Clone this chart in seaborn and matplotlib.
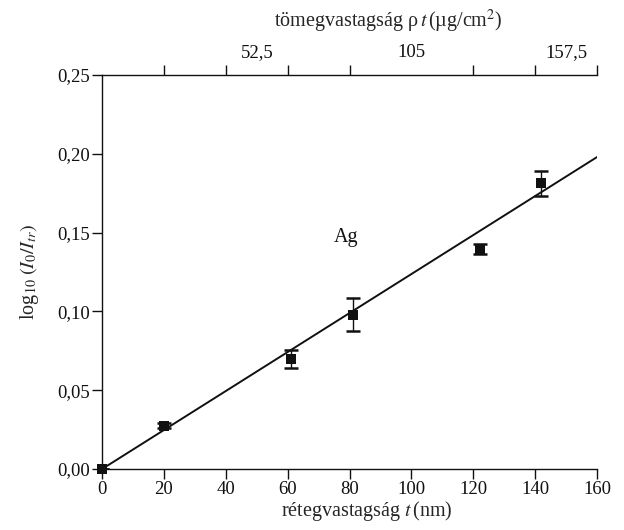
import numpy as np
import pandas as pd
import seaborn as sns
import matplotlib.pyplot as plt
from matplotlib.ticker import FuncFormatter, FixedLocator

# measured points (thickness in nm, log10(I0/Itr), error)
thickness = [0, 20, 61, 81, 122, 142]
log_ratio = [0.0, 0.0275, 0.0698, 0.098, 0.1396, 0.1812]
log_err = [0.0, 0.0015, 0.0056, 0.0104, 0.003, 0.0081]

# straight line through the data
line_t = [0, 160]
line_y = [0.0, 0.198]

x_ticks = [0, 20, 40, 60, 80, 100, 120, 140, 160]
y_ticks = [0.0, 0.05, 0.10, 0.15, 0.20, 0.25]
top_labels = [52.5, 105, 157.5]
rho = 1.05  # µg/cm2 per nm for Ag

sns.set_theme(style='ticks')
plt.rcParams['font.family'] = ['Liberation Serif', 'DejaVu Serif']
plt.rcParams['mathtext.fontset'] = 'stix'
plt.rcParams['font.size'] = 13.5

ink = '#111111'
df = pd.DataFrame({'t': thickness, 'y': log_ratio, 'err': log_err})
line_df = pd.DataFrame({'t': line_t, 'y': line_y})

fig = plt.figure(figsize=(6.24, 5.30), dpi=100)
ax = fig.add_axes([0.1635, 0.115, 0.7935, 0.7435])

sns.lineplot(data=line_df, x='t', y='y', color=ink, linewidth=1.4, ax=ax)
ax.errorbar(df['t'], df['y'], yerr=df['err'], fmt='none', ecolor=ink,
            elinewidth=1.0, capsize=5, capthick=1.8)
sns.scatterplot(data=df, x='t', y='y', marker='s', s=60, color=ink,
                edgecolor=ink, linewidth=0, zorder=5, ax=ax)
for c in ax.collections:
    c.set_clip_on(False)

ax.set_xlim(0, 160)
ax.set_ylim(0, 0.25)
ax.set_xticks(x_ticks)
ax.set_yticks(y_ticks)
ax.yaxis.set_major_formatter(FuncFormatter(lambda v, p: f'{v:.2f}'.replace('.', ',')))
ax.tick_params(axis='both', direction='out', length=7, width=1.0, colors=ink,
               labelsize=13.5, pad=1.5)
for s in ['left', 'bottom']:
    ax.spines[s].set_linewidth(1.0)
    ax.spines[s].set_color(ink)
ax.spines['right'].set_visible(False)
ax.spines['top'].set_visible(False)

ax.set_xlabel(r'rétegvastagság $t\,$(nm)', fontsize=14.5, labelpad=1)
ax.xaxis.label.set_x(0.535)
ax.set_ylabel(r'log$_{10}\;(I_0/I_{tr})$', fontsize=14.5, labelpad=12)

# top axis in mass thickness
top = ax.secondary_xaxis('top', functions=(lambda t: t * rho, lambda m: m / rho))
top.set_xticks(top_labels)
top.xaxis.set_major_formatter(FuncFormatter(lambda v, p: f'{v:g}'.replace('.', ',')))
top.xaxis.set_minor_locator(FixedLocator([t * rho for t in x_ticks[1:]]))
top.tick_params(axis='x', which='major', length=0, labelsize=13.5, pad=10, colors=ink)
top.tick_params(axis='x', which='minor', length=7, width=1.0, direction='out', colors=ink)
top.spines['top'].set_linewidth(1.0)
top.spines['top'].set_color(ink)
top.set_xlabel(r'tömegvastagság ρ$\,t\,$(µg/cm$^2$)', fontsize=14.5, labelpad=12)
top.xaxis.label.set_x(0.578)

ax.text(79, 0.1466, 'Ag', fontsize=14.5, ha='center', va='center', color=ink)

fig.savefig('out.png', dpi=100)
